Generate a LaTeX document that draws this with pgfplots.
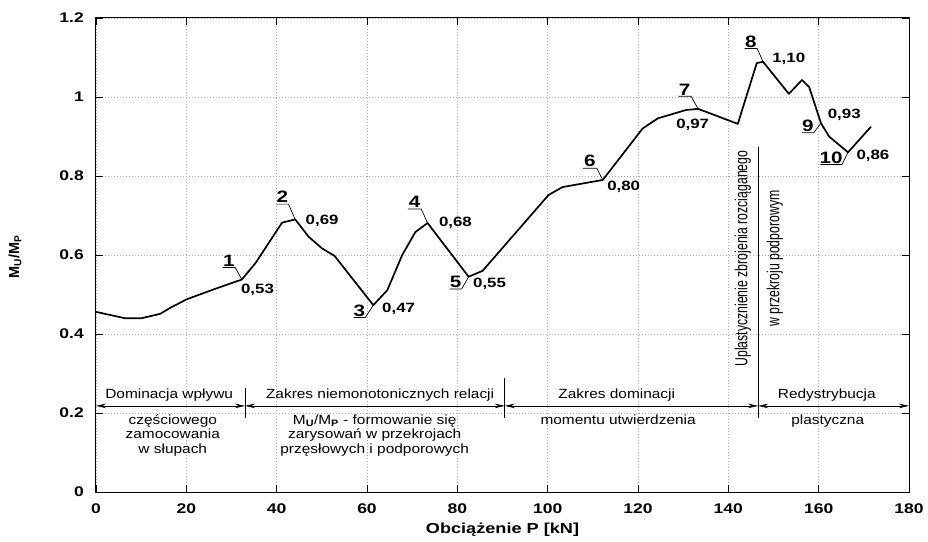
\documentclass[border=0pt]{standalone}
\usepackage{fontspec}
\usepackage{pgfplots}
\pgfplotsset{compat=1.18}
\usetikzlibrary{arrows.meta}
\setmainfont{Liberation Sans}
\newfontfamily\widefont{Liberation Sans}[FakeStretch=1.25]
\newfontfamily\annfont{Liberation Sans}[FakeStretch=1.16]
\newfontfamily\narrowfont{Liberation Sans}[FakeStretch=0.7]
\newcommand\tickbf{\widefont\bfseries\fontsize{14}{15}\selectfont}
\newcommand\valbf{\widefont\bfseries\fontsize{13.5}{14}\selectfont}
\newcommand\numbf{\widefont\bfseries\fontsize{16.5}{17}\selectfont}
\newcommand\ann{\annfont\fontsize{13.3}{14.5}\selectfont}
\newcommand\rot{\narrowfont\fontsize{17.5}{18}\selectfont}
% #1 X, #2 Y, #3 cx, #4 cy, #5 L, #6 digit, #7 vx, #8 vy, #9 value
\newcommand\plabel[9]{%
  \draw[line width=0.7pt] (axis cs:#1,#2) -- ++(#3pt,#4pt) -- ++(-#5pt,0pt) node[midway,above,inner sep=0.8pt]{\numbf #6};
  \node[anchor=west,inner sep=0pt] at ([shift={(#7pt,#8pt)}]axis cs:#1,#2) {\valbf #9};
}
\begin{document}
\begin{tikzpicture}
\begin{axis}[
  scale only axis, width=813pt, height=474pt,
  xmin=0, xmax=180, ymin=0, ymax=1.2,
  xtick={0,20,...,180}, ytick={0,0.2,...,1.2},
  tick align=inside, major tick length=7pt,
  xtick pos=both, ytick pos=both,
  every tick/.style={black, line width=0.9pt},
  axis line style={black, line width=1pt},
  grid=major,
  major grid style={gray!65, line width=0.6pt, dash pattern=on 1pt off 2pt},
  xticklabel style={font=\tickbf, inner sep=0pt, yshift=-12pt},
  yticklabel style={font=\tickbf, inner sep=0pt, xshift=-12pt},
  /pgf/number format/assume math mode=true,
  xlabel={Obciążenie P [kN]},
  ylabel={M\textsubscript{U}/M\textsubscript{P}},
  xlabel style={font=\widefont\bfseries\fontsize{14.5}{16}\selectfont, at={(axis description cs:0.5,0)}, anchor=center, yshift=-38pt},
  ylabel style={font=\bfseries\fontsize{14.5}{16}\selectfont, at={(axis description cs:0,0.5)}, anchor=center, yshift=81pt, xshift=-2pt},
  clip=false,
]
\addplot[black, line width=1.7pt, line join=round] coordinates {
(0,0.456) (6.4,0.440) (10.1,0.440) (14.2,0.451) (16.4,0.466) (20.1,0.488)
(26.8,0.516) (32.3,0.538) (35.4,0.581) (41.2,0.682) (44.1,0.690) (47.1,0.646)
(50.0,0.617) (52.8,0.598) (61.4,0.473) (64.5,0.511) (67.8,0.600) (70.7,0.658)
(73.4,0.681) (82.5,0.545) (85.6,0.560) (100.2,0.752) (103.3,0.772) (112.2,0.790)
(121.0,0.920) (124.4,0.946) (130.6,0.967) (133.3,0.970) (142.1,0.932) (146.3,1.086)
(147.7,1.089) (153.4,1.008) (156.3,1.043) (157.9,1.025) (160.5,0.934) (162.3,0.900)
(166.5,0.860) (171.6,0.925)
};
\plabel{32.3}{0.538}{-6.7}{12}{12.6}{1}{-1}{-10}{0,53}
\plabel{44.1}{0.690}{-6.7}{15.3}{12.3}{2}{10.3}{-1.4}{0,69}
\plabel{61.4}{0.473}{-8}{-12.3}{11.7}{3}{8.7}{-3.3}{0,47}
\plabel{73.4}{0.681}{-6.3}{14}{13.4}{4}{11.3}{0}{0,68}
\plabel{82.5}{0.545}{-7}{-12.3}{12}{5}{4.3}{-7.3}{0,55}
\plabel{112.2}{0.790}{-6}{11.7}{14}{6}{4.3}{-7.3}{0,80}
\plabel{133.3}{0.970}{-7}{12.6}{12.7}{7}{-22}{-15.7}{0,97}
\plabel{147.7}{1.089}{-6}{13.4}{12.4}{8}{9}{3.4}{1,10}
\plabel{160.5}{0.934}{-7}{-9.6}{12}{9}{6.7}{8.3}{0,93}
\plabel{166.5}{0.860}{-6}{-12.3}{21.7}{10}{8.3}{-3.3}{0,86}
% range arrows
\draw[line width=0.6pt, {Stealth[length=10pt,width=4.5pt]}-{Stealth[length=10pt,width=4.5pt]}] (axis cs:0,0.218) -- (axis cs:33,0.218);
\draw[line width=0.6pt, {Stealth[length=10pt,width=4.5pt]}-{Stealth[length=10pt,width=4.5pt]}] (axis cs:33,0.218) -- (axis cs:90.5,0.218);
\draw[line width=0.6pt, {Stealth[length=10pt,width=4.5pt]}-{Stealth[length=10pt,width=4.5pt]}] (axis cs:90.5,0.218) -- (axis cs:146.6,0.218);
\draw[line width=0.6pt, {Stealth[length=10pt,width=4.5pt]}-{Stealth[length=10pt,width=4.5pt]}] (axis cs:146.6,0.218) -- (axis cs:180,0.218);
\draw[line width=1pt] (axis cs:33,0.263) -- (axis cs:33,0.187);
\draw[line width=1pt] (axis cs:90.5,0.289) -- (axis cs:90.5,0.187);
\draw[line width=1pt] (axis cs:146.6,0.873) -- (axis cs:146.6,0.187);
\node[font=\ann] at (axis cs:16.2,0.246) {Dominacja wpływu};
\node[font=\ann, align=center, anchor=north] at (axis cs:17,0.205) {częściowego\\zamocowania\\w słupach};
\node[font=\ann] at (axis cs:62.9,0.246) {Zakres niemonotonicznych relacji};
\node[font=\ann, align=center, anchor=north] at (axis cs:61.7,0.205) {M\textsubscript{\bfseries U}/M\textsubscript{\bfseries P} - formowanie się\\zarysowań w przekrojach\\przęsłowych i podporowych};
\node[font=\ann] at (axis cs:115.3,0.246) {Zakres dominacji};
\node[font=\ann, anchor=north] at (axis cs:115.6,0.205) {momentu utwierdzenia};
\node[font=\ann] at (axis cs:161.8,0.246) {Redystrybucja};
\node[font=\ann, anchor=north] at (axis cs:162,0.205) {plastyczna};
\node[font=\rot, rotate=90] at (axis cs:143.2,0.591) {Uplastycznienie zbrojenia rozciąganego};
\node[font=\rot, rotate=90] at (axis cs:150.3,0.591) {w przekroju podporowym};
\end{axis}
\pgfresetboundingbox
\path[use as bounding box] (-96pt,-49pt) rectangle (832pt,492pt);
\end{tikzpicture}
\end{document}
